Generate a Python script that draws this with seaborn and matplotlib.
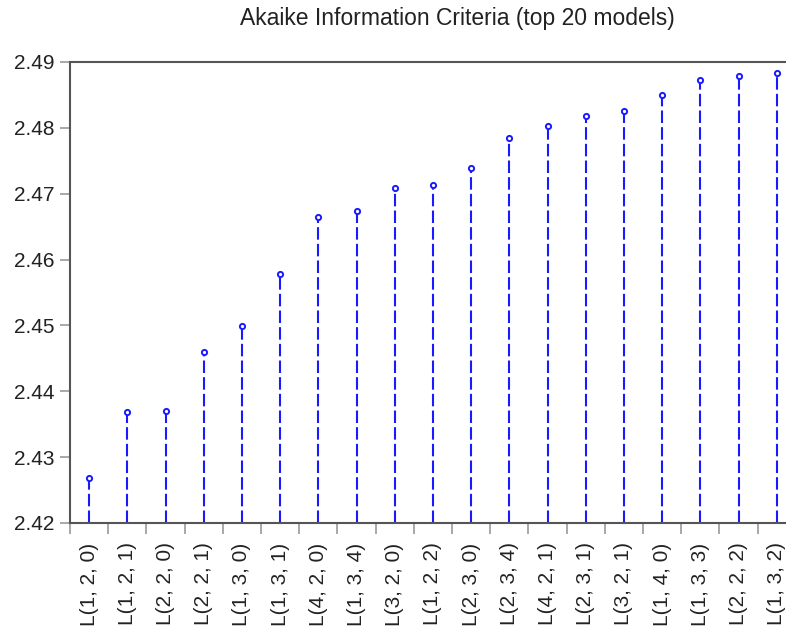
import matplotlib
matplotlib.use("Agg")
import matplotlib.pyplot as plt
from matplotlib.ticker import FixedLocator, NullFormatter
import seaborn as sns
import pandas as pd
import numpy as np

models = ["L(1, 2, 0)", "L(1, 2, 1)", "L(2, 2, 0)", "L(2, 2, 1)", "L(1, 3, 0)",
          "L(1, 3, 1)", "L(4, 2, 0)", "L(1, 3, 4)", "L(3, 2, 0)", "L(1, 2, 2)",
          "L(2, 3, 0)", "L(2, 3, 4)", "L(4, 2, 1)", "L(2, 3, 1)", "L(3, 2, 1)",
          "L(1, 4, 0)", "L(1, 3, 3)", "L(2, 2, 2)", "L(1, 3, 2)", "L(3, 3, 0)"]
aic = [2.4268, 2.4369, 2.4370, 2.4460, 2.4499,
       2.4578, 2.4665, 2.4674, 2.4709, 2.4713,
       2.4739, 2.4785, 2.4803, 2.4818, 2.4826,
       2.4850, 2.4873, 2.4879, 2.4883, 2.4886]
y_ticks = [2.42, 2.43, 2.44, 2.45, 2.46, 2.47, 2.48, 2.49]

df = pd.DataFrame({"model": models, "aic": aic, "pos": np.arange(len(models))})

sns.set_theme(style="white")
plt.rcParams["font.family"] = ["Liberation Sans", "DejaVu Sans"]

fig = plt.figure(figsize=(7.86, 6.37), dpi=100)
ax = fig.add_axes([70 / 786, 114 / 637, 764 / 786, 461 / 637])

blue = "#1a1aff"
ymin = 2.42
ax.vlines(df["pos"], ymin, df["aic"], colors=blue, linestyles=(0, (6, 2)),
          linewidth=1.5, zorder=2)
sns.scatterplot(data=df, x="pos", y="aic", ax=ax, marker="o", s=14,
                facecolor="white", edgecolor=blue, linewidth=1.4, zorder=3,
                legend=False)

ax.set_xlim(-0.5, len(models) - 0.5)
ax.set_ylim(ymin, 2.49)
ax.set_yticks(y_ticks)
ax.set_yticklabels([f"{v:.2f}" for v in y_ticks])

# category boundaries carry the tick marks, centres carry the labels
ax.xaxis.set_major_locator(FixedLocator(np.arange(-0.5, len(models), 1.0)))
ax.xaxis.set_major_formatter(NullFormatter())
ax.xaxis.set_minor_locator(FixedLocator(df["pos"]))
ax.set_xticklabels(df["model"], minor=True, rotation=90)
ax.tick_params(axis="x", which="major", length=8, width=1.2, color="#999999",
               direction="out", bottom=True)
ax.tick_params(axis="x", which="minor", length=0, pad=14, labelsize=15,
               labelcolor="#222222", bottom=True)
ax.tick_params(axis="y", length=7, width=1.2, color="#999999", direction="out",
               left=True, labelsize=15, labelcolor="#222222", pad=4)

for side in ["left", "top", "bottom", "right"]:
    ax.spines[side].set_color("#555555")
    ax.spines[side].set_linewidth(1.5)

ax.set_xlabel("")
ax.set_ylabel("")
fig.text(457 / 786, 1 - 18 / 637, "Akaike Information Criteria (top 20 models)",
         ha="center", va="center", fontsize=16.5, color="#222222")

fig.savefig("out.png", dpi=100)
